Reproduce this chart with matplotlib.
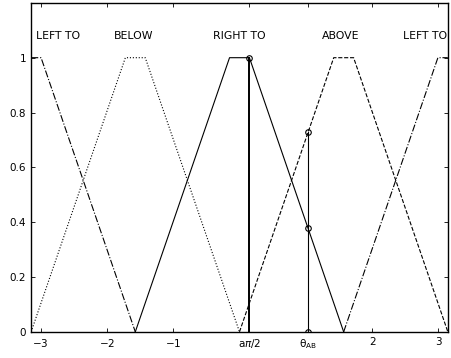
import numpy as np
import matplotlib
matplotlib.use('Agg')
import matplotlib.pyplot as plt

# trapezoid membership functions over the angle (centre, plateau half width, base half width)
pi = np.pi
names = ['LEFT TO', 'BELOW', 'RIGHT TO', 'ABOVE', 'LEFT TO']
centres = [-pi, -pi / 2, 0.0, pi / 2, pi]
styles = ['-.', ':', '-', '--', '-.']
top_half = 0.15
base_half = pi / 2
label_x = [-3.07, -1.6, 0.0, 1.53, 2.46]
label_y = 1.08

# the two angles that are marked
a_pi2 = 0.15
theta_ab = 1.035


def trap(x, c):
    d = np.abs(x - c)
    return np.clip((base_half - d) / (base_half - top_half), 0, 1)


def show():
    fig = plt.figure(figsize=(4.51, 3.58), dpi=100)
    ax = fig.add_axes([0.069, 0.073, 0.924, 0.919])

    for c, ls in zip(centres, styles):
        xs = np.array([c - base_half, c - top_half, c + top_half, c + base_half])
        xs = np.clip(xs, -pi, pi)
        ax.plot(xs, trap(xs, c), ls, color='k', linewidth=0.8)

    for n, x in zip(names, label_x):
        ha = 'left' if x < -3 or x > 2 else 'center'
        ax.text(x, label_y, n, ha=ha, va='center', fontsize=7.8, clip_on=True)

    # membership of RIGHT TO at a*pi/2
    m1 = trap(np.array([a_pi2]), 0.0)[0]
    ax.plot([a_pi2, a_pi2], [0, m1], color='k', linewidth=1.4)
    ax.plot([a_pi2], [m1], 'o', mfc='none', mec='k', ms=4, mew=0.8)

    # memberships of RIGHT TO and ABOVE at theta_AB
    m2 = trap(np.array([theta_ab]), 0.0)[0]
    m3 = trap(np.array([theta_ab]), pi / 2)[0]
    ax.plot([theta_ab, theta_ab], [0, m3], color='k', linewidth=0.8)
    ax.plot([theta_ab] * 3, [0, m2, m3], 'o', mfc='none', mec='k', ms=4, mew=0.8)

    ax.set_xlim(-pi, pi)
    ax.set_ylim(0, 1.2)
    ax.set_xticks([-3, -2, -1, a_pi2, theta_ab, 2, 3])
    ax.set_xticklabels([r'$\mathregular{-3}$', r'$\mathregular{-2}$', r'$\mathregular{-1}$',
                        r'a$\pi$/2', r'$\mathregular{\theta_{AB}}$', '2', '3'])
    ax.set_yticks([0, 0.2, 0.4, 0.6, 0.8, 1])
    ax.set_yticklabels(['0', '0.2', '0.4', '0.6', '0.8', '1'])
    ax.tick_params(direction='in', top=True, right=True, labelsize=7.5, length=3, width=0.6)
    ax.tick_params(axis='x', pad=4)
    for s in ax.spines.values():
        s.set_linewidth(1.0)

    fig.savefig('out.png', dpi=100)


if __name__ == '__main__':
    show()
